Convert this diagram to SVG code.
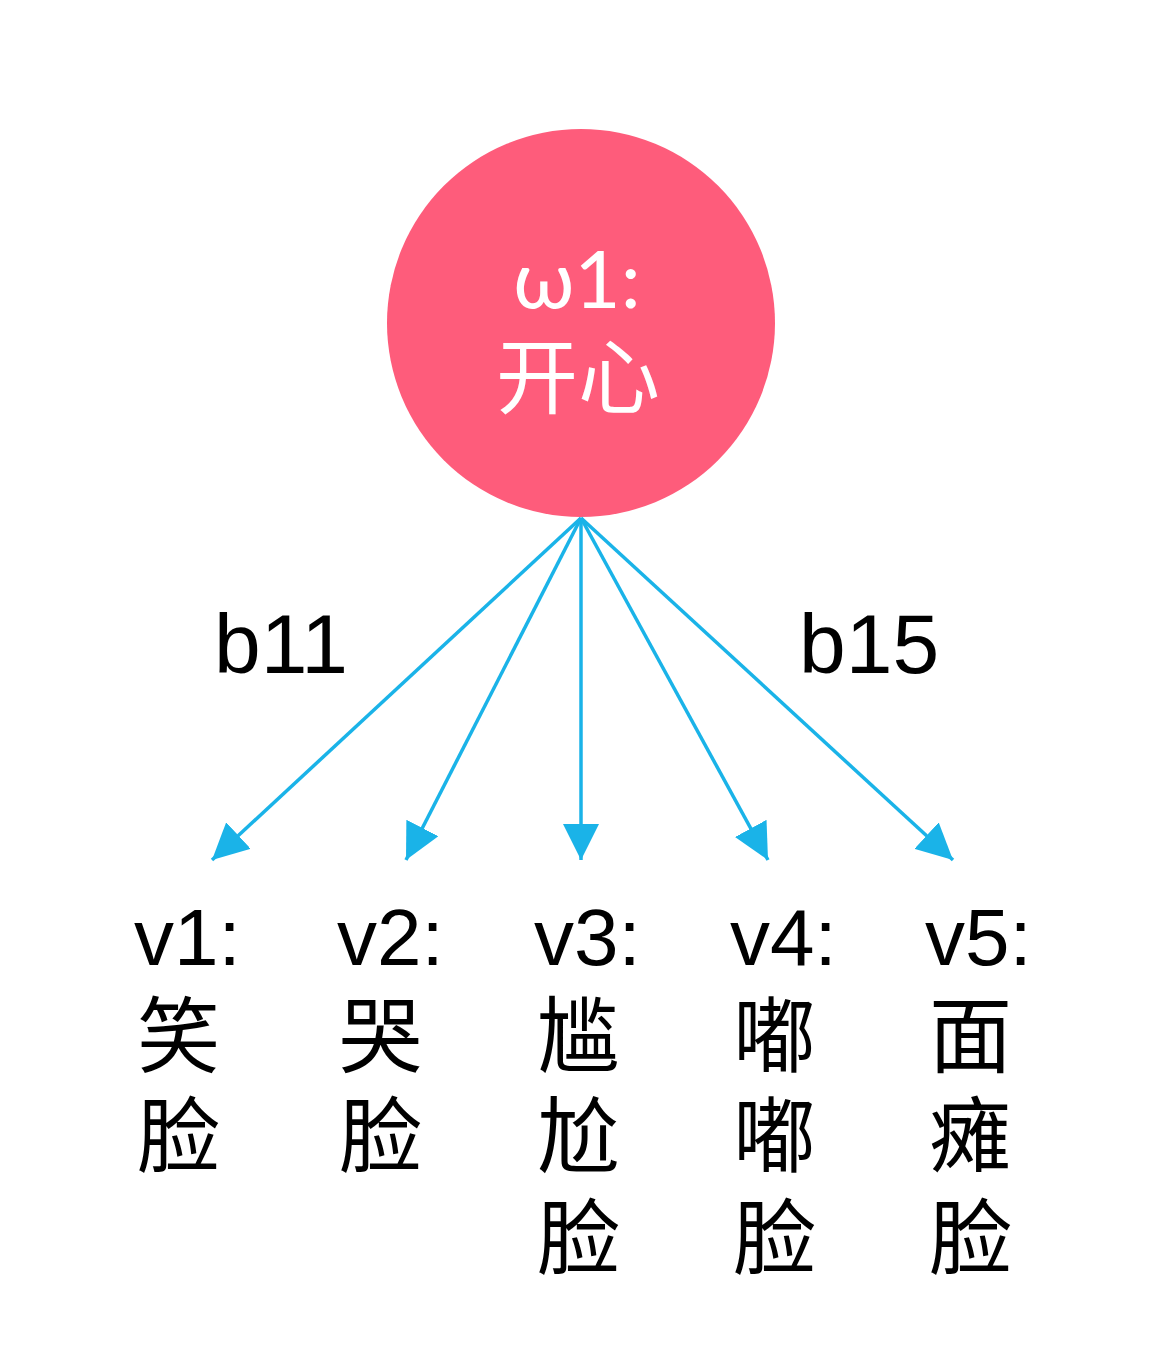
<svg xmlns="http://www.w3.org/2000/svg" width="1171" height="1371" viewBox="0 0 1171 1371">
  <style>
    .lbl { font-family: "Liberation Sans", "Noto Sans CJK SC", sans-serif; font-size: 84px; fill: #000; }
    .lat { font-family: "Liberation Sans", "Noto Sans CJK SC", sans-serif; font-size: 80px; fill: #000; }
    .node { font-family: "Liberation Sans", "Noto Sans CJK SC", sans-serif; font-size: 83px; fill: #000; }
    .ctr { font-family: "Lato", "Noto Sans CJK SC", sans-serif; fill: #fff; text-anchor: middle; }
    .edge { stroke: #1AB3E8; stroke-width: 3.5; fill: none; }
  </style>
  <defs>
    <marker id="arrow" viewBox="0 0 36 36" refX="36" refY="18" markerWidth="36" markerHeight="36" markerUnits="userSpaceOnUse" orient="auto">
      <path d="M0,0 L36,18 L0,36 z" fill="#1AB3E8"/>
    </marker>
  </defs>
  <rect width="1171" height="1371" fill="#fff"/>
  <g id="w1">
    <circle cx="581" cy="323" r="194" fill="#FE5C7B"/>
    <text class="ctr" x="577" y="308" font-size="80">ω1:</text>
    <text class="ctr" x="578" y="407" font-size="82">开心</text>
  </g>
  <g id="connectors">
    <line class="edge" x1="581" y1="518" x2="212" y2="860" marker-end="url(#arrow)"/>
    <line class="edge" x1="581" y1="518" x2="406" y2="860" marker-end="url(#arrow)"/>
    <line class="edge" x1="581" y1="518" x2="581" y2="860" marker-end="url(#arrow)"/>
    <line class="edge" x1="581" y1="518" x2="768" y2="860" marker-end="url(#arrow)"/>
    <line class="edge" x1="581" y1="518" x2="953" y2="860" marker-end="url(#arrow)"/>
    <text class="lbl" x="214" y="673">b11</text>
    <text class="lbl" x="799" y="673">b15</text>
  </g>
  <g id="v1">
    <text class="lat" x="134" y="965">v1:</text>
    <text class="node" x="137" y="1066">笑</text>
    <text class="node" x="137" y="1166">脸</text>
  </g>
  <g id="v2">
    <text class="lat" x="337" y="965">v2:</text>
    <text class="node" x="339" y="1066">哭</text>
    <text class="node" x="339" y="1166">脸</text>
  </g>
  <g id="v3">
    <text class="lat" x="534" y="965">v3:</text>
    <text class="node" x="537" y="1066">尴</text>
    <text class="node" x="537" y="1166">尬</text>
    <text class="node" x="537" y="1268">脸</text>
  </g>
  <g id="v4">
    <text class="lat" x="730" y="965">v4:</text>
    <text class="node" x="733" y="1066">嘟</text>
    <text class="node" x="733" y="1166">嘟</text>
    <text class="node" x="733" y="1268">脸</text>
  </g>
  <g id="v5">
    <text class="lat" x="925" y="965">v5:</text>
    <text class="node" x="929" y="1066">面</text>
    <text class="node" x="929" y="1166">瘫</text>
    <text class="node" x="929" y="1268">脸</text>
  </g>
</svg>
